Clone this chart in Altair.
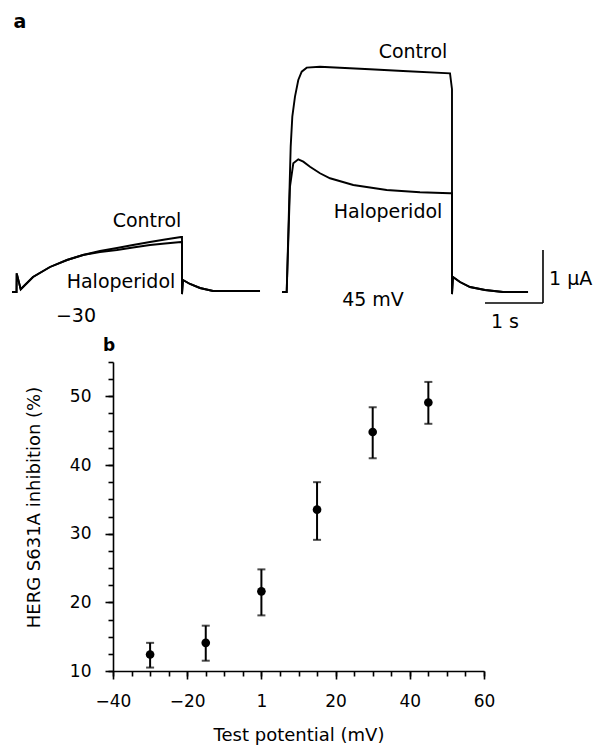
import altair as alt
import pandas as pd

FONT = "DejaVu Sans"

# ---------------- Panel a: current traces (time in s, current in µA) ----------------
left_control_t = [0.0, 0.078, 0.081, 0.150, 0.259, 0.362, 0.655, 0.948, 1.224, 1.517, 1.810, 2.086,
                  2.379, 2.638, 2.914, 2.931, 2.931, 2.948, 3.069, 3.241, 3.466, 4.276]
left_control_i = [0.0, 0.0, 0.358, 0.052, 0.173, 0.288, 0.481, 0.615, 0.712, 0.788, 0.846, 0.904,
                  0.962, 1.010, 1.058, 1.058, -0.04, 0.231, 0.154, 0.077, 0.019, 0.019]

left_halo_t = [0.0, 0.078, 0.081, 0.150, 0.259, 0.362, 0.655, 0.948, 1.224, 1.517, 1.810, 2.086,
               2.379, 2.638, 2.914, 2.931, 2.931, 2.948, 3.069, 3.241, 3.466, 4.276]
left_halo_i = [0.0, 0.0, 0.358, 0.052, 0.173, 0.288, 0.481, 0.615, 0.712, 0.769, 0.808, 0.856,
               0.904, 0.933, 0.962, 0.962, -0.04, 0.231, 0.154, 0.077, 0.019, 0.019]

right_control_t = [4.655, 4.736, 4.805, 4.833, 4.879, 4.936, 4.995, 5.081, 5.310, 6.172, 6.741,
                   7.552, 7.586, 7.586, 7.603, 7.724, 7.897, 8.155, 8.466, 8.897]
right_control_i = [0.0, 0.0, 2.795, 3.372, 3.756, 4.077, 4.237, 4.314, 4.333, 4.283, 4.250,
                   4.205, 3.900, -0.04, 0.288, 0.192, 0.096, 0.038, 0.0, 0.0]

right_halo_t = [4.655, 4.736, 4.793, 4.850, 4.936, 5.022, 5.138, 5.310, 5.483, 5.884, 6.460, 7.034,
                7.552, 7.586, 7.586, 7.603, 7.724, 7.897, 8.155, 8.466, 8.897]
right_halo_i = [0.0, 0.0, 2.025, 2.475, 2.552, 2.506, 2.410, 2.283, 2.187, 2.058, 1.962, 1.917,
                1.898, 1.898, -0.04, 0.288, 0.192, 0.096, 0.038, 0.0, 0.0]

trace_labels = ["Control", "Haloperidol", "\u221230", "Control", "Haloperidol", "45 mV", "1 s"]
trace_label_t = [2.328, 1.879, 1.103, 6.914, 6.483, 6.224, 8.5]
trace_label_i = [1.365, 0.192, -0.462, 4.615, 1.538, -0.154, -0.577]

# scale bar: 1 s and 1 µA
bar_t = [8.155, 9.155]
bar_i = [-0.212, 0.808]

# ---------------- Panel b: inhibition vs test potential ----------------
potential = [-30, -15, 0, 15, 30, 45]
inhibition = [12.4, 14.1, 21.6, 33.5, 44.8, 49.1]
err_low = [10.5, 11.5, 18.1, 29.1, 41.0, 46.0]
err_high = [14.1, 16.6, 24.8, 37.5, 48.4, 52.1]

x_major = [-40, -20, 0, 20, 40, 60]
x_minor = list(range(-40, 61, 5))
y_major = [10, 20, 30, 40, 50]
y_minor = [10 + 2.5 * k for k in range(19)]

# ---------------- tables ----------------
rows = []
for name, ts, cs in [("lc", left_control_t, left_control_i), ("lh", left_halo_t, left_halo_i),
                     ("rc", right_control_t, right_control_i), ("rh", right_halo_t, right_halo_i)]:
    for k, (t, c) in enumerate(zip(ts, cs)):
        rows.append({"series": name, "idx": k, "t": t, "i": c})
traces = pd.DataFrame(rows)
labels_df = pd.DataFrame({"label": trace_labels, "t": trace_label_t, "i": trace_label_i})
bars_df = pd.DataFrame({"t": [bar_t[0], bar_t[1]], "t2": [bar_t[1], bar_t[1]],
                        "i": [bar_i[0], bar_i[0]], "i2": [bar_i[0], bar_i[1]]})
ua_df = pd.DataFrame({"label": ["1 \u03bcA"], "t": [9.259], "i": [0.25]})
a_df = pd.DataFrame({"label": ["a"], "t": [0.138], "i": [5.192]})

pts = pd.DataFrame({"mv": potential, "inh": inhibition, "lo": err_low, "hi": err_high})
b_df = pd.DataFrame({"label": ["b"], "mv": [-41.08], "inh": [57.33]})

XA = alt.Scale(domain=[1.7414, 8.1379], nice=False, zero=False)
YA = alt.Scale(domain=[-7.2885, -1.3462], nice=False, zero=False)
XB = alt.Scale(domain=[-40, 60], nice=False, zero=False)
YB = alt.Scale(domain=[10, 55], nice=False, zero=False)

W, H = 371, 309

trace_lines = alt.Chart(traces).mark_line(color="black", strokeWidth=1.9, clip=False).encode(
    x=alt.X("t:Q", scale=XA, axis=None),
    y=alt.Y("i:Q", scale=YA, axis=None),
    detail="series:N",
    order="idx:Q",
)
trace_text = alt.Chart(labels_df).mark_text(font=FONT, fontSize=19, color="black", align="center",
                                            baseline="middle", clip=False).encode(
    x=alt.X("t:Q", scale=XA, axis=None), y=alt.Y("i:Q", scale=YA, axis=None), text="label:N")
ua_text = alt.Chart(ua_df).mark_text(font=FONT, fontSize=19, color="black", align="left",
                                     baseline="middle", clip=False).encode(
    x=alt.X("t:Q", scale=XA, axis=None), y=alt.Y("i:Q", scale=YA, axis=None), text="label:N")
a_text = alt.Chart(a_df).mark_text(font=FONT, fontSize=19, fontWeight="bold", color="black",
                                   align="center", baseline="middle", clip=False).encode(
    x=alt.X("t:Q", scale=XA, axis=None), y=alt.Y("i:Q", scale=YA, axis=None), text="label:N")
scale_bar = alt.Chart(bars_df).mark_rule(color="black", strokeWidth=1.6, clip=False).encode(
    x=alt.X("t:Q", scale=XA, axis=None), x2="t2:Q",
    y=alt.Y("i:Q", scale=YA, axis=None), y2="i2:Q")

common = dict(labelFont=FONT, labelFontSize=17, labelColor="black",
              titleFont=FONT, titleFontSize=18, titleFontWeight="normal", titleColor="black",
              domainColor="black", domainWidth=1.6, tickColor="black", tickWidth=1.6,
              grid=False, labelOverlap=False, labelFlush=False)

x_axis = alt.Axis(
    orient="bottom", values=x_major, title="Test potential (mV)",
    labelExpr="datum.value === 0 ? '1' : datum.label",
    tickSize=8, labelPadding=14,
    titleX=W / 2, titleY=64, titleBaseline="middle", titleAlign="center", **common)
y_axis = alt.Axis(
    orient="left", values=y_major, title="HERG S631A inhibition (%)",
    tickSize=8, labelPadding=14,
    titleX=-79, titleY=145, titleAngle=270, titleBaseline="middle", titleAlign="center", **common)
x_axis_minor = alt.Axis(orient="bottom", values=x_minor, labels=False, title=None, domain=False,
                        tickSize=5, tickColor="black", tickWidth=1.6, grid=False)
y_axis_minor = alt.Axis(orient="left", values=y_minor, labels=False, title=None, domain=False,
                        tickSize=5, tickColor="black", tickWidth=1.6, grid=False)

err_rules = alt.Chart(pts).mark_rule(color="black", strokeWidth=2, clip=False).encode(
    x=alt.X("mv:Q", scale=XB, axis=x_axis_minor),
    y=alt.Y("lo:Q", scale=YB, axis=y_axis_minor), y2="hi:Q")
cap_lo = alt.Chart(pts).mark_tick(color="black", orient="horizontal", size=8, thickness=2,
                                  clip=False).encode(
    x=alt.X("mv:Q", scale=XB, axis=None), y=alt.Y("lo:Q", scale=YB, axis=None))
cap_hi = alt.Chart(pts).mark_tick(color="black", orient="horizontal", size=8, thickness=2,
                                  clip=False).encode(
    x=alt.X("mv:Q", scale=XB, axis=None), y=alt.Y("hi:Q", scale=YB, axis=None))
points = alt.Chart(pts).mark_circle(color="black", size=75, opacity=1, clip=False).encode(
    x=alt.X("mv:Q", scale=XB, axis=x_axis),
    y=alt.Y("inh:Q", scale=YB, axis=y_axis))
b_text = alt.Chart(b_df).mark_text(font=FONT, fontSize=17, fontWeight="bold", color="black",
                                   align="center", baseline="middle", clip=False).encode(
    x=alt.X("mv:Q", scale=XB, axis=None), y=alt.Y("inh:Q", scale=YB, axis=None), text="label:N")

chart = alt.layer(
    points, err_rules, cap_lo, cap_hi, b_text,
    trace_lines, trace_text, ua_text, a_text, scale_bar,
).resolve_scale(x="independent", y="independent").resolve_axis(
    x="independent", y="independent"
).properties(
    width=W, height=H,
    autosize=alt.AutoSizeParams(type="none"),
    padding={"left": 113, "top": 362, "right": 109, "bottom": 76},
    background="white",
).configure_view(stroke=None)

chart.save("out.html", embed_options={"renderer": "svg", "actions": False})
